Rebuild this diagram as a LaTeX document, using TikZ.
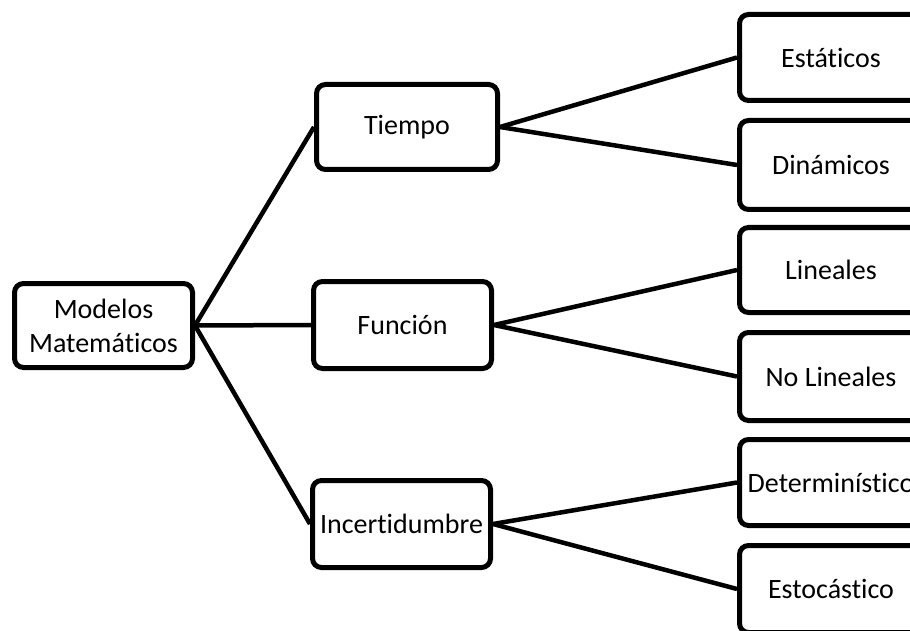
\documentclass[tikz,border=0pt]{standalone}
\usepackage{fontspec}
\setmainfont[Ligatures=NoCommon]{Carlito}
\begin{document}
\begin{tikzpicture}[x=1pt,y=-1pt,
  box/.style 2 args={draw, line width=5pt, rounded corners=9pt, fill=white,
    inner sep=0pt, align=center, font=\fontsize{28}{34}\selectfont,
    minimum width=#1pt-5pt, minimum height=#2pt-5pt},
  link/.style={line width=4.5pt}]
\clip (0,0) rectangle (910,631);
\useasboundingbox (0,0) rectangle (910,631);

% root box
\node[box={183}{89}] (mod) at (103.5,325.5) {Modelos\\Matemáticos};

% classification criteria
\node[box={186}{90}] (tie) at (407,127) {Tiempo};
\node[box={183}{92}] (fun) at (402.5,325) {Función};
\node[box={183}{92}] (inc) at (401.5,524) {Incertidumbre};

% model types
\node[box={188}{91}] (est) at (831,57.5) {Estáticos};
\node[box={188}{94}] (din) at (831,165) {Dinámicos};
\node[box={188}{90}] (lin) at (831,270) {Lineales};
\node[box={188}{93}] (nol) at (831,376.5) {No Lineales};
\node[box={188}{91}] (det) at (831,482.5) {Determinístico};
\node[box={188}{92}] (sto) at (831,589) {Estocástico};

\draw[link] (mod.east) -- (tie.west);
\draw[link] (mod.east) -- (fun.west);
\draw[link] (mod.east) -- (inc.west);
\draw[link] (tie.east) -- (est.west);
\draw[link] (tie.east) -- (din.west);
\draw[link] (fun.east) -- (lin.west);
\draw[link] (fun.east) -- (nol.west);
\draw[link] (inc.east) -- (det.west);
\draw[link] (inc.east) -- (sto.west);
\end{tikzpicture}
\end{document}
